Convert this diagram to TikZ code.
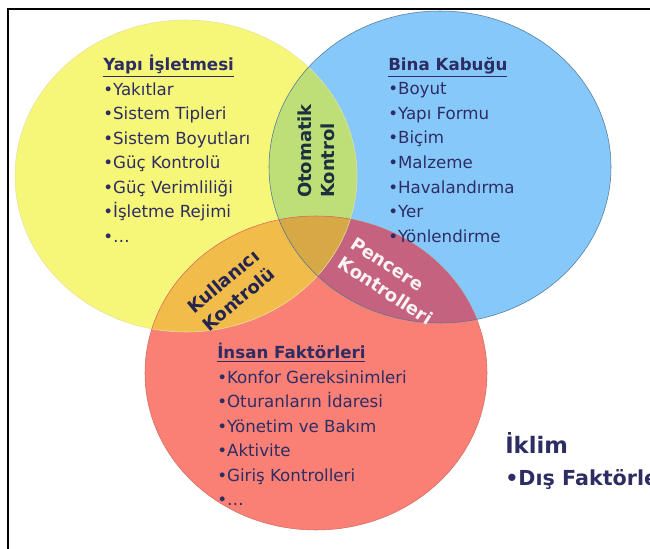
\documentclass[tikz,border=0pt]{standalone}
\usepackage{fontspec}
\setmainfont{DejaVu Sans}
\definecolor{yel}{RGB}{246,246,120}
\definecolor{sky}{RGB}{135,200,250}
\definecolor{salmon}{RGB}{250,128,118}
\definecolor{lime}{RGB}{190,222,120}
\definecolor{gold}{RGB}{242,188,75}
\definecolor{mauve}{RGB}{196,98,128}
\definecolor{ochre}{RGB}{214,168,70}
\definecolor{navy}{RGB}{45,45,100}
\definecolor{teal}{RGB}{30,48,62}
\begin{document}
\begin{tikzpicture}[x=0.75pt, y=-0.75pt,
    list/.style={anchor=north west, align=left, inner sep=0pt, text=navy,
      font=\fontsize{12.5}{18.4}\selectfont},
    lens/.style={align=left, inner sep=0pt, font=\bfseries\fontsize{13.5}{17.5}\selectfont}]
    \useasboundingbox (0,0) rectangle (650,549);
    \coordinate (Y) at (186,176); \coordinate (B) at (440,167); \coordinate (R) at (316,373);
    % circles
    \fill[yel] (Y) ellipse [x radius=171, y radius=156];
    \fill[sky] (B) ellipse [x radius=171, y radius=156];
    \fill[salmon] (R) ellipse [x radius=171, y radius=157];
    \begin{scope}
        \clip (Y) ellipse [x radius=171, y radius=156];
        \fill[lime] (B) ellipse [x radius=171, y radius=156];
        \fill[gold] (R) ellipse [x radius=171, y radius=157];
        \clip (B) ellipse [x radius=171, y radius=156];
        \fill[ochre] (R) ellipse [x radius=171, y radius=157];
    \end{scope}
    \begin{scope}
        \clip (B) ellipse [x radius=171, y radius=156];
        \fill[mauve] (R) ellipse [x radius=171, y radius=157];
        \clip (Y) ellipse [x radius=171, y radius=156];
        \fill[ochre] (R) ellipse [x radius=171, y radius=157];
    \end{scope}
    \draw[yel!85!black!60, thin] (Y) ellipse [x radius=171, y radius=156];
    \draw[sky!60!black, thin] (B) ellipse [x radius=171, y radius=156];
    \draw[salmon!85!black, thin] (R) ellipse [x radius=171, y radius=157];
    % frame
    \draw[line width=1.5pt] (8,549) -- (8,9) -- (650,9);
    % lists
    \node[list] (yapi) at (103,55) {\textbf{\underline{Yapı İşletmesi}}\\•Yakıtlar\\•Sistem Tipleri\\•Sistem Boyutları\\•Güç Kontrolü\\•Güç Verimliliği\\•İşletme Rejimi\\•…};
    \node[list] (bina) at (388,57) {\textbf{\underline{Bina Kabuğu}}\\•Boyut\\•Yapı Formu\\•Biçim\\•Malzeme\\•Havalandırma\\•Yer\\•Yönlendirme};
    \node[list] (insan) at (217,343) {\textbf{\underline{İnsan Faktörleri}}\\•Konfor Gereksinimleri\\•Oturanların İdaresi\\•Yönetim ve Bakım\\•Aktivite\\•Giriş Kontrolleri\\•…};
    % overlaps
    \node[lens, text=teal, rotate=90] (oto) at (316,151) {Otomatik\\Kontrol};
    \node[lens, text=navy!80!black, rotate=40] (kul) at (231,290) {Kullanıcı\\Kontrolü};
    \node[lens, text=white!92!mauve, rotate=-33] (pen) at (392,281) {Pencere\\Kontrolleri};
    % climate
    \node[anchor=base west, inner sep=0pt, text=navy, font=\bfseries\fontsize{17}{20}\selectfont] (iklim) at (505,453) {İklim};
    \node[anchor=base west, inner sep=0pt, text=navy, font=\bfseries\fontsize{15.5}{18}\selectfont] (dis) at (505,485) {•Dış Faktörler};
\end{tikzpicture}
\end{document}
